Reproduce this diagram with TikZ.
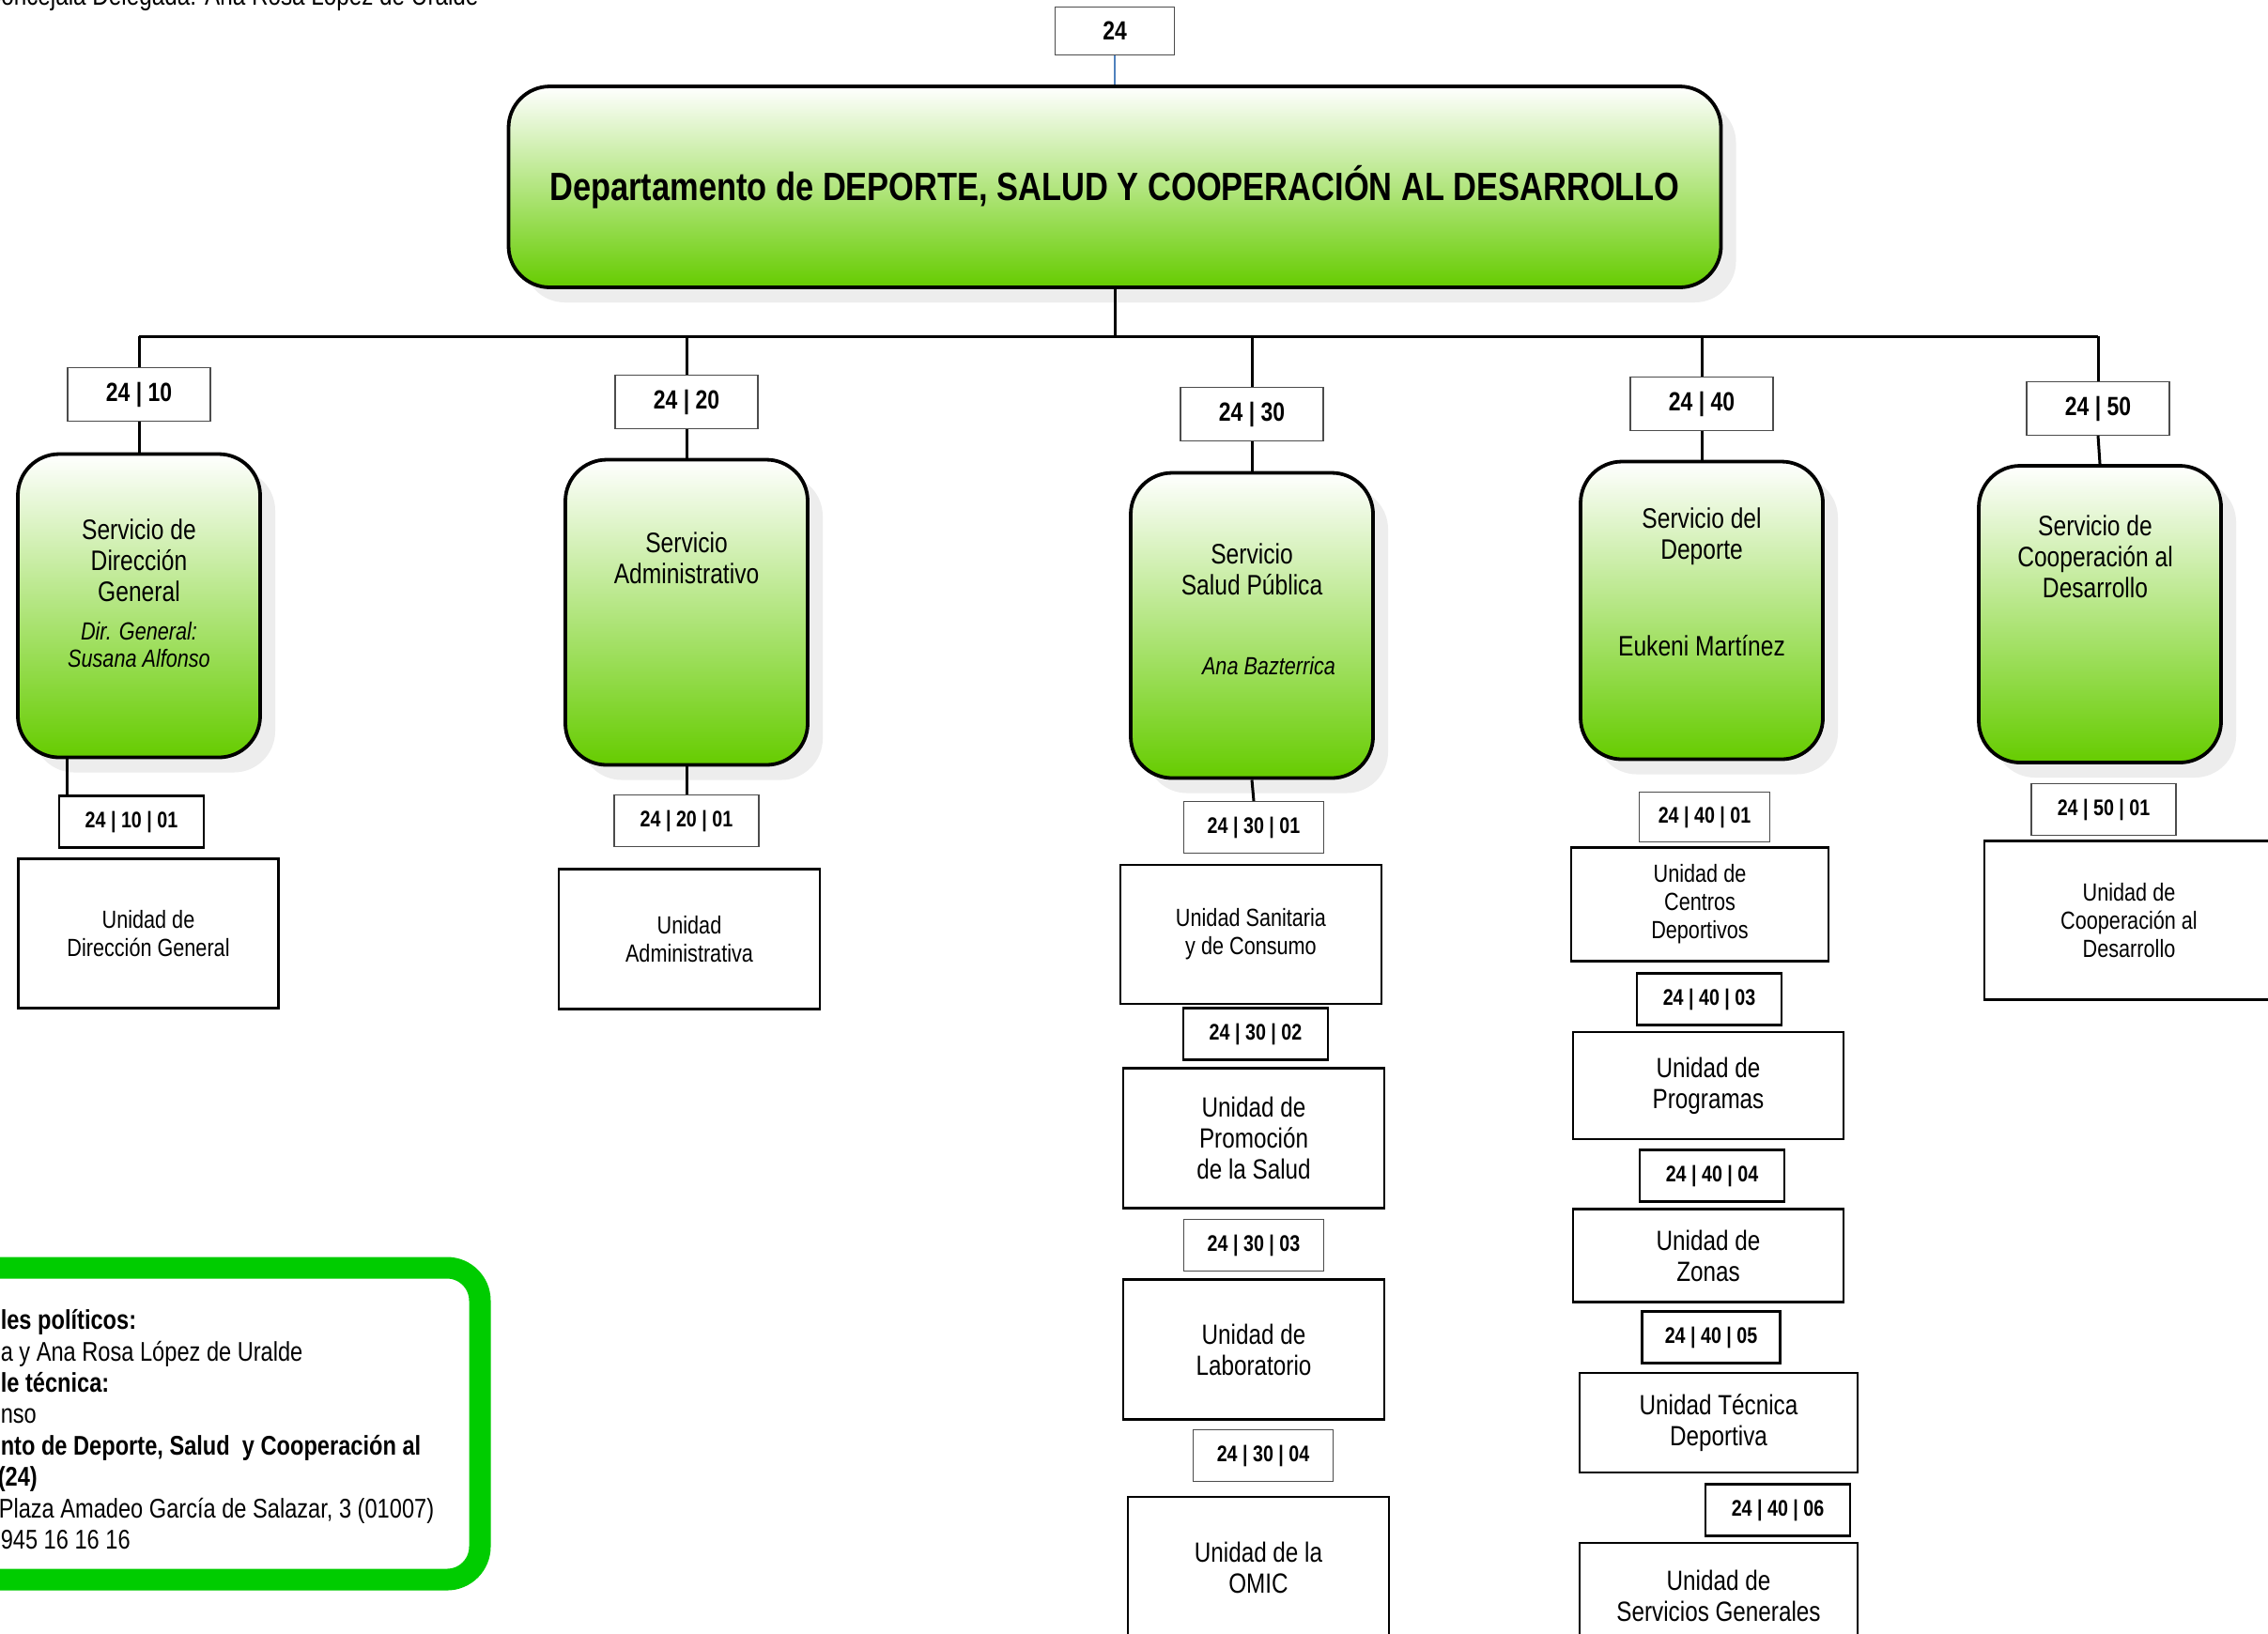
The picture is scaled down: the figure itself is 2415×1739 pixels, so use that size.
\documentclass[tikz,border=0pt]{standalone}
\usepackage{fontspec}
\setmainfont{Liberation Sans}[FakeStretch=0.82]
\usepackage{tikz}
\usetikzlibrary{shadows}
\definecolor{svcgreen}{HTML}{66CC00}
\definecolor{legendgreen}{HTML}{00CC00}
\definecolor{linkblue}{HTML}{4F81BD}

\begin{document}
\begin{tikzpicture}[
      x=0.25pt, y=-0.25pt,
      font=\fontsize{7.5}{8.25}\selectfont,
      boxshadow/.style={drop shadow={shadow xshift=4pt, shadow yshift=-4pt,
                        fill=black!7, opacity=1}},
      svc/.style={draw, line width=0.95pt, rounded corners=11pt, top color=white,
                  bottom color=svcgreen, minimum width=64.5pt, minimum height=81.25pt,
                  boxshadow},
      dept/.style={svc, minimum width=322.75pt, minimum height=53.5pt,
                   font=\bfseries\fontsize{10.5}{12}\selectfont},
      svctext/.style={align=center, inner sep=0pt},
      svcname/.style={align=center, inner sep=0pt, font=\itshape\fontsize{6.6}{7.25}\selectfont},
      code/.style={draw=black!70, line width=0.3pt, minimum width=38pt,
                   minimum height=14.25pt, inner sep=0pt,
                   font=\bfseries\fontsize{7}{8}\selectfont},
      subcode/.style={code, minimum width=38.5pt, minimum height=13.75pt,
                      font=\bfseries\fontsize{6}{7}\selectfont},
      thickcode/.style={subcode, draw=black, line width=0.6pt},
      unit/.style={draw, line width=0.6pt, align=center, minimum width=69.5pt,
                   minimum height=37.25pt, inner sep=0pt,
                   font=\fontsize{6.6}{7.5}\selectfont},
      bigunit/.style={unit, font=\fontsize{7.4}{8.25}\selectfont},
      trunk/.style={line width=0.75pt},
      link/.style={draw=linkblue, line width=0.3pt},
      legend/.style={draw=legendgreen, line width=5.75pt, rounded corners=8.75pt},
      lgd/.style={anchor=base west, inner sep=0pt, font=\fontsize{7.2}{8.35}\selectfont}
    ]
    \useasboundingbox[fill=white] (0,0) rectangle (2415,1739);
    \node[anchor=base west, inner sep=0pt, font=\fontsize{7.4}{8}\selectfont] (delegada)
      at (-17,5) {Concejala Delegada: Ana Rosa López de Uralde};

    % department
    \node[code, minimum width=31.75pt, minimum height=12.75pt] (c24) at (1187,33) {24};
    \node[dept] (dept) at (1187,199) {Departamento de DEPORTE, SALUD Y COOPERACIÓN AL DESARROLLO};
    \draw[link] (c24.south) -- (dept.north);

    % services
    \node[svc, minimum height=80.75pt] (s10) at (148,645) {};
    \node[svctext] (s10t) at (148,597) {Servicio de\\Dirección\\General};
    \node[svcname] (s10n) at (148,687) {Dir. General:\\Susana Alfonso};
    \node[svc] (s20) at (731,652) {};
    \node[svctext] (s20t) at (731,594) {Servicio\\Administrativo};
    \node[svc] (s30) at (1333,666) {};
    \node[svctext] (s30t) at (1333,606) {Servicio\\Salud Pública};
    \node[svcname] (s30n) at (1351,709) {Ana Bazterrica};
    \node[svc, minimum height=79.25pt] (s40) at (1812,650) {};
    \node[svctext] (s40t) at (1812,571) {Servicio del\\Deporte};
    \node[svctext] (s40n) at (1812,688) {Eukeni Martínez};
    \node[svc, minimum height=79pt] (s50) at (2236,654) {};
    \node[svctext] (s50t) at (2231,593) {Servicio de\\Cooperación al\\Desarrollo};

    \node[code] (c10) at (148,420) {24 | 10};
    \node[code] (c20) at (731,428) {24 | 20};
    \node[code] (c30) at (1333,441) {24 | 30};
    \node[code] (c40) at (1812,430) {24 | 40};
    \node[code] (c50) at (2234,435) {24 | 50};

    % tree
    \coordinate (bar) at (1187,358);
    \draw[trunk] (dept.south) -- (bar);
    \draw[trunk] (c10.north |- bar) -- (c50.north |- bar);
    \foreach \c/\s in {c10/s10, c20/s20, c30/s30, c40/s40, c50/s50} {
      \draw[trunk] (\c.north |- bar) -- (\c.north);
      \draw[trunk] (\c.south) -- (\s.north);
    }

    % units
    \node[thickcode] (c1001) at (140,875) {24 | 10 | 01};
    \node[unit, minimum width=69.25pt, minimum height=39.75pt] (u1001) at (158,994) {Unidad de\\Dirección General};
    \node[subcode] (c2001) at (731,874) {24 | 20 | 01};
    \node[unit] (u2001) at (734,1000) {Unidad\\Administrativa};
    \node[subcode, minimum width=37.25pt] (c3001) at (1335,881) {24 | 30 | 01};
    \node[unit, minimum height=37pt] (u3001) at (1332,995) {Unidad Sanitaria\\y de Consumo};
    \node[thickcode] (c3002) at (1337,1101) {24 | 30 | 02};
    \node[bigunit] (u3002) at (1335,1212) {Unidad de\\Promoción\\de la Salud};
    \node[subcode, minimum width=37.25pt] (c3003) at (1335,1326) {24 | 30 | 03};
    \node[bigunit] (u3003) at (1335,1437) {Unidad de\\Laboratorio};
    \node[subcode, minimum width=37.25pt] (c3004) at (1345,1550) {24 | 30 | 04};
    \node[bigunit, minimum height=37.5pt] (u3004) at (1340,1669) {Unidad de la\\OMIC};
    \node[subcode, minimum width=34.75pt, minimum height=13.25pt] (c4001) at (1815,870) {24 | 40 | 01};
    \node[unit, minimum width=68.5pt, minimum height=30.25pt] (u4001) at (1810,963) {Unidad de\\Centros\\Deportivos};
    \node[thickcode] (c4003) at (1820,1064) {24 | 40 | 03};
    \node[bigunit, minimum width=72pt, minimum height=28.5pt] (u4003) at (1819,1156) {Unidad de\\Programas};
    \node[thickcode] (c4004) at (1823,1252) {24 | 40 | 04};
    \node[bigunit, minimum width=72pt, minimum height=24.75pt] (u4004) at (1819,1337) {Unidad de\\Zonas};
    \node[thickcode, minimum width=36.75pt] (c4005) at (1822,1424) {24 | 40 | 05};
    \node[bigunit, minimum width=74pt, minimum height=26.5pt] (u4005) at (1830,1515) {Unidad Técnica\\Deportiva};
    \node[thickcode] (c4006) at (1893,1608) {24 | 40 | 06};
    \node[bigunit, minimum width=74pt, minimum height=28pt] (u4006) at (1830,1699) {Unidad de\\Servicios Generales};
    \node[subcode] (c5001) at (2240,862) {24 | 50 | 01};
    \node[unit, minimum width=77pt, minimum height=42.25pt] (u5001) at (2267,980) {Unidad de\\Cooperación al\\Desarrollo};

    \draw[trunk] ([xshift=-19.25pt]s10.south) -- ([xshift=-17.25pt]c1001.north);
    \draw[trunk] (s20.south) -- (c2001.north);
    \draw[trunk] (s30.south) -- (c3001.north);

    % legend
    \draw[legend] (-120,1350) rectangle (511,1682);
    \node[lgd] (lg1) at (0,1415) {\textbf{les políticos:}};
    \node[lgd] (lg2) at (0,1449) {a y Ana Rosa López de Uralde};
    \node[lgd] (lg3) at (0,1482) {\textbf{le técnica:}};
    \node[lgd] (lg4) at (0,1515) {nso};
    \node[lgd] (lg5) at (0,1549) {\textbf{nto de Deporte, Salud~ y Cooperación al}};
    \node[lgd] (lg6) at (-3,1582) {\textbf{(24)}};
    \node[lgd] (lg7) at (-2,1616) {Plaza Amadeo García de Salazar, 3 (01007)};
    \node[lgd] (lg8) at (0,1649) {945 16 16 16};
\end{tikzpicture}
\end{document}
